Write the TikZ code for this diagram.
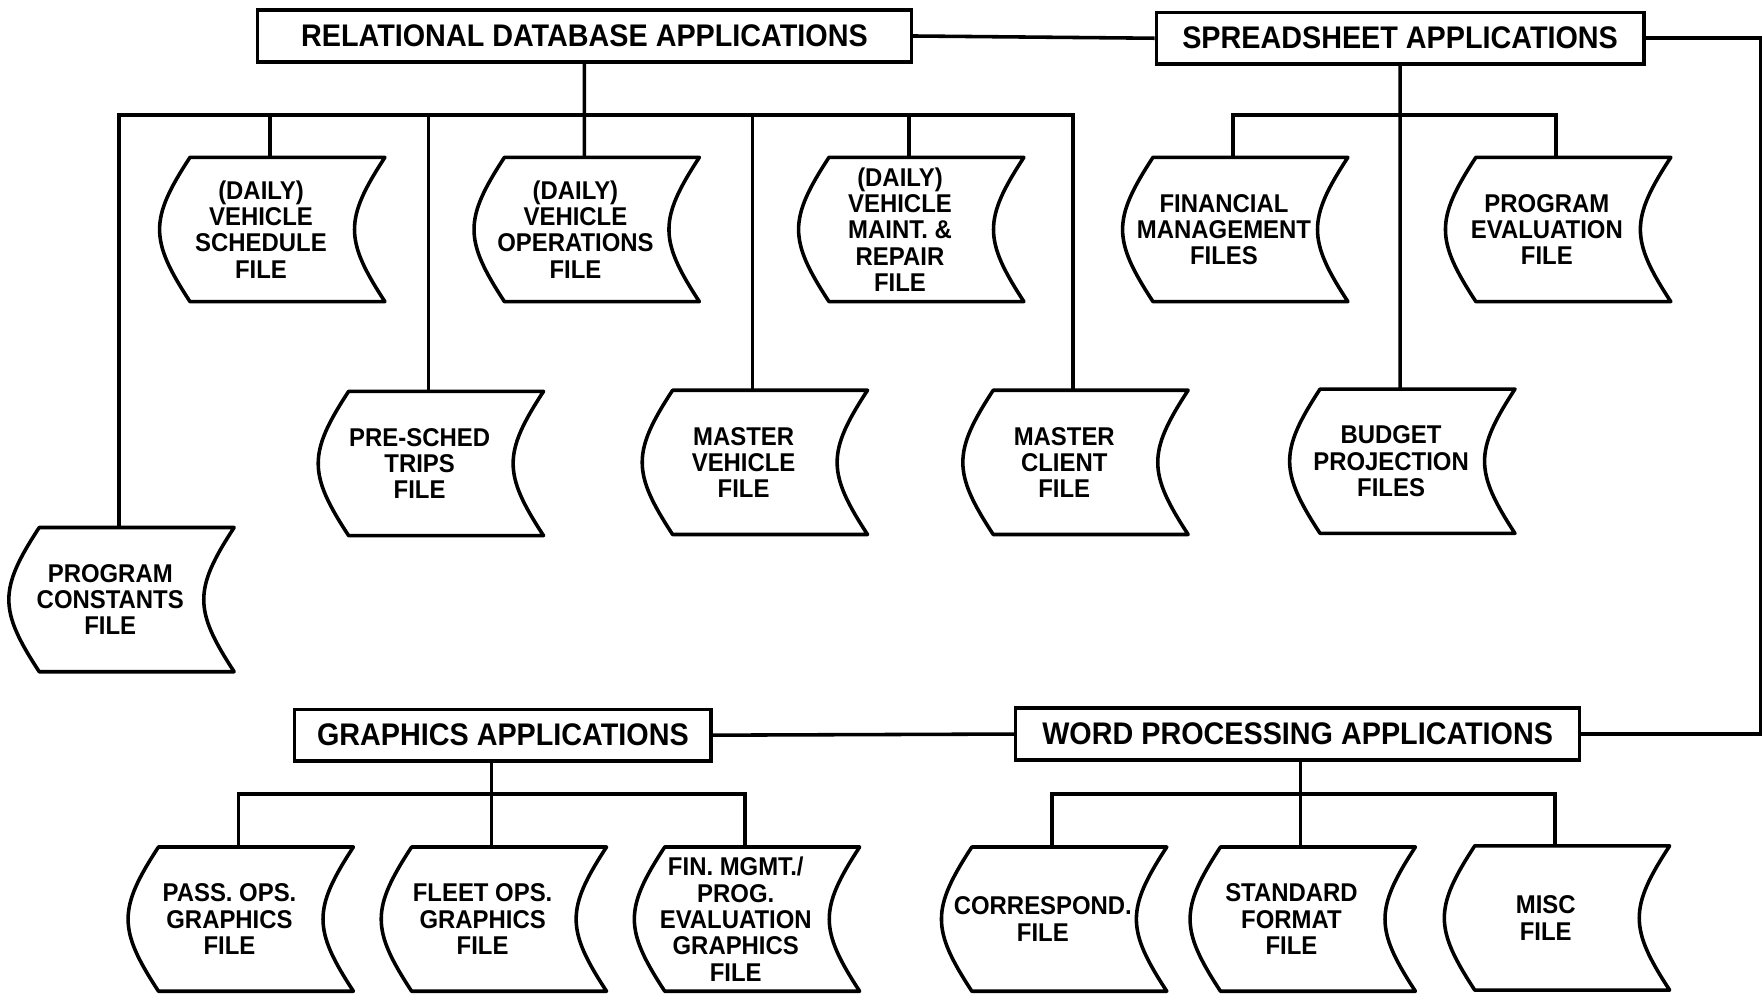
\documentclass[tikz,border=0pt]{standalone}
\usepackage{fontspec}
\setmainfont{Liberation Sans}[FakeStretch=0.93]
\newfontfamily\headfont{Liberation Sans}[FakeStretch=0.92]
\newfontfamily\filefont{Liberation Sans}[FakeStretch=0.93]
\tikzset{
  appbox/.style={draw, inner sep=0pt, minimum height=0.46cm,
    font=\headfont\bfseries\fontsize{7.9pt}{8pt}\selectfont},
  filebox/.style={align=center, inner sep=0pt,
    minimum width=1.97cm, minimum height=1.25cm,
    font=\filefont\bfseries\fontsize{6.5pt}{6.65pt}\selectfont},
  drop/.style={xshift=0.8mm}
}
\begin{document}
\begin{tikzpicture}[x=0.01cm,y=-0.01cm,line width=0.9pt]
  \useasboundingbox (0,0) rectangle (1568,883);
  % application boxes
  \node[appbox,minimum width=5.81cm] (rda) at (519.5,32) {RELATIONAL DATABASE APPLICATIONS};
  \node[appbox,minimum width=4.33cm] (sa) at (1244.5,34) {SPREADSHEET APPLICATIONS};
  \node[appbox,minimum width=3.70cm] (ga) at (447,653.5) {GRAPHICS APPLICATIONS};
  \node[appbox,minimum width=5.01cm] (wpa) at (1153.5,652.5) {WORD PROCESSING APPLICATIONS};
  % database files
  \node[filebox] (dvs) at (232,204) {(DAILY)\\VEHICLE\\SCHEDULE\\FILE};
  \node[filebox] (dvo) at (511.5,204) {(DAILY)\\VEHICLE\\OPERATIONS\\FILE};
  \node[filebox] (dvm) at (800,204) {(DAILY)\\VEHICLE\\MAINT. \&\\REPAIR\\FILE};
  \node[filebox] (pre) at (373,412) {PRE-SCHED\\TRIPS\\FILE};
  \node[filebox] (mv) at (661,411) {MASTER\\VEHICLE\\FILE};
  \node[filebox] (mc) at (946,411) {MASTER\\CLIENT\\FILE};
  \node[filebox] (pc) at (98,533) {PROGRAM\\CONSTANTS\\FILE};
  % spreadsheet files
  \node[filebox] (fm) at (1088,204) {FINANCIAL\\MANAGEMENT\\FILES};
  \node[filebox] (pe) at (1375,204) {PROGRAM\\EVALUATION\\FILE};
  \node[filebox] (bp) at (1236.5,410) {BUDGET\\PROJECTION\\FILES};
  % graphics files
  \node[filebox] (pass) at (204,817) {PASS. OPS.\\GRAPHICS\\FILE};
  \node[filebox] (fleet) at (429,817) {FLEET OPS.\\GRAPHICS\\FILE};
  \node[filebox] (fin) at (654,817) {FIN. MGMT./\\PROG.\\EVALUATION\\GRAPHICS\\FILE};
  % word processing files
  \node[filebox] (corr) at (927,817) {CORRESPOND.\\FILE};
  \node[filebox] (std) at (1148,817) {STANDARD\\FORMAT\\FILE};
  \node[filebox] (misc) at (1374,816) {MISC\\FILE};
  % file outlines (text sits a little left of the outline centre)
  \foreach \n in {dvs,dvo,dvm,pre,mv,mc,pc,fm,pe,bp,pass,fleet,fin,corr,std,misc}
    \draw[line join=round] ([xshift=3.7mm]\n.north west) -- ([xshift=1mm]\n.north east)
      .. controls ([xshift=-2.6mm,yshift=-5.5mm]\n.north east)
              and ([xshift=-2.6mm,yshift=5.5mm]\n.south east) .. ([xshift=1mm]\n.south east)
      -- ([xshift=3.7mm]\n.south west)
      .. controls ([xshift=0.1mm,yshift=5.5mm]\n.south west)
              and ([xshift=0.1mm,yshift=-5.5mm]\n.north west) .. ([xshift=3.7mm]\n.north west)
      -- cycle;
  % buses
  \coordinate (rbus) at (519.5,102);
  \coordinate (sbus) at (1244.5,102);
  \coordinate (gbus) at (437,706);
  \coordinate (wbus) at (1156,706);
  \coordinate (rim) at (1565,34);
  \draw (rda.south) -- ([drop]dvo.north);
  \draw ([drop]pc.north) |- (rbus) -| ([drop]mc.north);
  \foreach \n in {dvs,pre,mv,dvm}
    \draw ([drop]\n.north) -- ([drop]\n.north |- rbus);
  \draw (sa.south) -- ([drop]bp.north);
  \draw ([drop]fm.north) |- (sbus) -| ([drop]pe.north);
  \draw ([drop]ga.south -| fleet.north) -- ([drop]fleet.north);
  \draw ([drop]pass.north) |- (gbus) -| ([drop]fin.north);
  \draw ([drop]wpa.south -| std.north) -- ([drop]std.north);
  \draw ([drop]corr.north) |- (wbus) -| ([drop]misc.north);
  % links between applications
  \draw (rda.east) -- (sa.west);
  \draw (sa.east) -- (rim) |- (wpa.east);
  \draw (ga.east) -- (wpa.west);
\end{tikzpicture}
\end{document}
